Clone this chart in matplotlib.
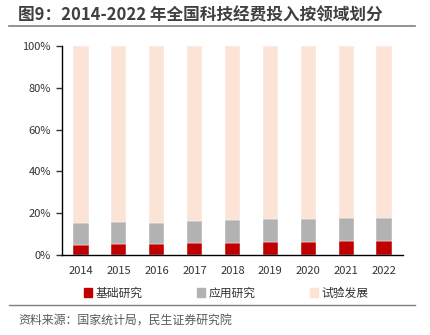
import matplotlib
matplotlib.use("Agg")
import matplotlib.pyplot as plt
from matplotlib.lines import Line2D
from matplotlib.patches import Patch
from matplotlib.ticker import PercentFormatter

plt.rcParams['font.family'] = ['Noto Sans CJK SC', 'DejaVu Sans']

years = ["2014", "2015", "2016", "2017", "2018", "2019", "2020", "2021", "2022"]
basic = [4.7, 5.1, 5.2, 5.5, 5.5, 6.0, 6.0, 6.5, 6.6]
applied = [10.8, 10.8, 10.3, 10.5, 11.1, 11.3, 11.3, 11.3, 11.3]
develop = [84.5, 84.1, 84.5, 84.0, 83.4, 82.7, 82.7, 82.2, 82.1]

labels = ["基础研究", "应用研究", "试验发展"]
colors = ["#C00000", "#B2B2B2", "#FBE3D6"]

fig = plt.figure(figsize=(4.31, 3.35), dpi=100)
ax = fig.add_axes([0.144, 0.239, 0.791, 0.624])

x = range(len(years))
bottom = [0] * len(years)
for vals, c in zip([basic, applied, develop], colors):
    ax.bar(x, vals, width=0.4, bottom=bottom, color=c, edgecolor="white", linewidth=0.3)
    bottom = [b + v for b, v in zip(bottom, vals)]

ax.set_ylim(0, 100)
ax.set_xlim(-0.5, len(years) - 0.5)
ax.set_yticks(range(0, 101, 20))
ax.yaxis.set_major_formatter(PercentFormatter(decimals=0))
ax.set_xticks(list(x))
ax.set_xticklabels(years)
ax.tick_params(axis="y", length=4, width=1, labelsize=8, colors="#333333", pad=4)
ax.tick_params(axis="x", length=0, labelsize=8, colors="#333333", pad=8)
for s in ["top", "right"]:
    ax.spines[s].set_visible(False)
for s in ["left", "bottom"]:
    ax.spines[s].set_color("black")
    ax.spines[s].set_linewidth(1)

handles = [Patch(color=c) for c in colors]
fig.legend(handles, labels, loc="center", bbox_to_anchor=(0.525, 0.125), ncol=3,
           frameon=False, fontsize=8.5, handlelength=0.7, handleheight=0.7,
           handletextpad=0.3, columnspacing=4.6, labelcolor="#333333")

# title and source lines
fig.text(0.042, 0.955, "图9：2014-2022 年全国科技经费投入按领域划分", fontsize=12,
         fontweight="bold", color="#404040", va="center", ha="left")
fig.add_artist(Line2D([0.021, 0.963], [0.921, 0.921], color="#7f7f7f", lw=1.2))
fig.add_artist(Line2D([0.021, 0.963], [0.09, 0.09], color="#7f7f7f", lw=1.0))
fig.text(0.042, 0.045, "资料来源：国家统计局，民生证券研究院", fontsize=8.6,
         color="#595959", va="center", ha="left")

fig.savefig("out.png", dpi=100)
